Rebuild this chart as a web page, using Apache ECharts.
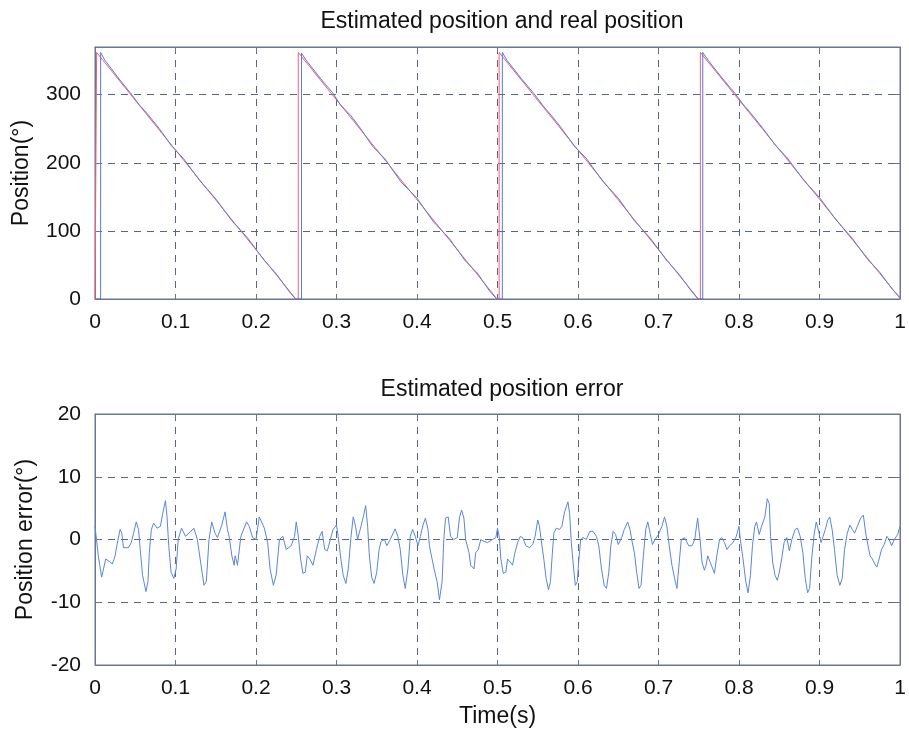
<!DOCTYPE html>
<html>
<head>
<meta charset="utf-8">
<script src="https://cdn.jsdelivr.net/npm/echarts@6/dist/echarts.min.js"></script>
<style>
html,body{margin:0;padding:0;background:#fff;}
#c{width:909px;height:736px;}
</style>
</head>
<body>
<div id="c"></div>
<script>
// ---- data ----
const topTitle = 'Estimated position and real position';
const bottomTitle = 'Estimated position error';

// real position (red)
const realT = [0, 0.002, 0.002, 0.2495, 0.2525, 0.2525, 0.4995, 0.502, 0.502, 0.7495, 0.752, 0.752, 1.0];
const realV = [0, 0, 362, 0, 0, 362, 0, 0, 362, 0, 0, 362, 1];

// estimated position (blue)
const estT = [0, 0.007, 0.007, 0.012, 0.03, 0.045, 0.055, 0.065, 0.08, 0.095, 0.11, 0.13, 0.15, 0.17, 0.19, 0.21, 0.225, 0.24, 0.249,
  0.2565, 0.2565, 0.262, 0.28, 0.295, 0.305, 0.318, 0.33, 0.345, 0.36, 0.38, 0.40, 0.42, 0.44, 0.46, 0.475, 0.49, 0.499,
  0.506, 0.506, 0.512, 0.53, 0.545, 0.557, 0.568, 0.58, 0.595, 0.61, 0.63, 0.65, 0.67, 0.69, 0.71, 0.725, 0.74, 0.749,
  0.755, 0.755, 0.762, 0.78, 0.795, 0.805, 0.818, 0.83, 0.845, 0.86, 0.88, 0.90, 0.92, 0.94, 0.96, 0.975, 0.99, 1.0];
const estV = [0, 0, 362, 351, 323, 301, 285, 272, 250, 225, 206, 174, 147, 115, 89, 57, 37, 13, 0,
  0, 361, 351, 324, 303, 285, 269, 250, 224, 206, 172, 148, 114, 89, 56, 38, 12, 0,
  0, 362, 350, 323, 302, 283, 268, 250, 225, 207, 174, 148, 115, 89, 57, 37, 13, 0,
  0, 362, 350, 323, 302, 286, 268, 250, 226, 207, 175, 149, 117, 90, 58, 39, 15, 2];

// position error
const errT = [0.0000,0.0041,0.0083,0.0104,0.0133,0.0187,0.0216,0.0250,0.0271,0.0312,0.0333,0.0354,0.0416,0.0450,0.0479,0.0512,0.0541,0.0562,0.0591,0.0633,
  0.0658,0.0675,0.0700,0.0729,0.0771,0.0812,0.0841,0.0875,0.0895,0.0916,0.0945,0.0979,0.1008,0.1033,0.1075,0.1125,0.1229,0.1271,0.1312,0.1354,
  0.1383,0.1416,0.1450,0.1491,0.1521,0.1575,0.1616,0.1645,0.1666,0.1700,0.1729,0.1741,0.1770,0.1812,0.1883,0.1916,0.1958,0.2000,0.2041,0.2062,
  0.2104,0.2145,0.2175,0.2216,0.2250,0.2291,0.2333,0.2375,0.2437,0.2479,0.2500,0.2521,0.2554,0.2583,0.2612,0.2637,0.2667,0.2708,0.2750,0.2792,
  0.2821,0.2854,0.2887,0.2929,0.2958,0.3000,0.3021,0.3054,0.3083,0.3117,0.3146,0.3179,0.3208,0.3237,0.3262,0.3304,0.3333,0.3362,0.3387,0.3408,
  0.3437,0.3467,0.3500,0.3529,0.3554,0.3596,0.3625,0.3667,0.3729,0.3762,0.3792,0.3825,0.3854,0.3887,0.3917,0.3946,0.3979,0.4012,0.4042,0.4075,
  0.4104,0.4137,0.4154,0.4187,0.4221,0.4250,0.4279,0.4312,0.4333,0.4354,0.4387,0.4417,0.4458,0.4500,0.4529,0.4554,0.4583,0.4604,0.4646,0.4667,
  0.4708,0.4729,0.4762,0.4792,0.4833,0.4875,0.4937,0.4979,0.5000,0.5021,0.5042,0.5071,0.5104,0.5125,0.5158,0.5187,0.5217,0.5250,0.5283,0.5312,
  0.5354,0.5396,0.5437,0.5467,0.5500,0.5521,0.5542,0.5575,0.5604,0.5633,0.5658,0.5679,0.5700,0.5729,0.5771,0.5800,0.5833,0.5875,0.5896,0.5917,
  0.5950,0.5967,0.5992,0.6008,0.6033,0.6062,0.6104,0.6146,0.6187,0.6229,0.6258,0.6292,0.6325,0.6354,0.6383,0.6408,0.6437,0.6467,0.6500,0.6542,
  0.6575,0.6617,0.6646,0.6667,0.6700,0.6729,0.6758,0.6783,0.6812,0.6842,0.6867,0.6896,0.6925,0.6958,0.7000,0.7042,0.7075,0.7104,0.7133,0.7167,
  0.7200,0.7229,0.7250,0.7283,0.7325,0.7375,0.7417,0.7450,0.7486,0.7516,0.7541,0.7570,0.7591,0.7612,0.7641,0.7675,0.7695,0.7724,0.7758,0.7787,
  0.7820,0.7850,0.7883,0.7925,0.7967,0.8000,0.8017,0.8050,0.8084,0.8113,0.8142,0.8167,0.8196,0.8217,0.8251,0.8280,0.8322,0.8351,0.8376,0.8392,
  0.8418,0.8447,0.8476,0.8501,0.8530,0.8560,0.8593,0.8626,0.8656,0.8697,0.8727,0.8760,0.8793,0.8823,0.8852,0.8877,0.8906,0.8935,0.8960,0.8990,
  0.9019,0.9044,0.9073,0.9102,0.9127,0.9157,0.9186,0.9219,0.9253,0.9282,0.9311,0.9345,0.9378,0.9407,0.9436,0.9470,0.9511,0.9545,0.9574,0.9603,
  0.9628,0.9657,0.9687,0.9712,0.9741,0.9770,0.9804,0.9837,0.9866,0.9896,0.9929,0.9971,1.0000];
const errV = [2.1,-2.6,-6.0,-6.2,-3.1,-3.6,-3.9,-2.6,-1.0,1.6,1.0,-1.3,-1.3,-0.5,1.0,2.8,1.6,-1.6,-5.7,-8.3,
  -6.7,-2.1,1.6,2.6,1.8,2.1,4.1,6.2,3.6,-1.0,-5.2,-6.2,-4.7,0,1.8,0.5,1.8,0,-3.6,-7.3,
  -6.7,0,2.8,1.0,0.3,2.3,4.4,1.6,0.5,-2.6,-4.1,-2.6,-4.1,0.5,2.8,2.1,0.3,0,3.6,3.9,
  1.8,-0.5,-4.7,-7.3,-5.7,0,0.5,-1.6,-1.0,0.5,2.8,1.0,-3.1,-5.4,-5.2,-2.6,-3.1,-4.1,-1.6,0.5,
  1.3,-1.6,-1.8,0.3,1.6,2.3,0.5,-3.1,-5.7,-7.0,-4.7,0.3,3.6,2.1,0,2.1,3.6,5.4,2.1,-2.6,
  -6.0,-7.0,-5.2,-1.6,-0.3,0,-1.0,0,1.7,0.5,-1.6,-5.7,-7.8,-4.7,0.5,1.6,0.5,-1.0,0.5,2.3,
  3.4,1.6,-1.0,-3.1,-5.2,-6.7,-9.6,-6.7,0,3.4,3.6,0.5,0,0.3,3.6,4.7,3.4,0,-2.1,-4.1,
  -4.7,-2.1,-1.6,0,-0.3,-0.5,0,0.3,1.8,0.5,-3.1,-5.4,-5.2,-3.1,-3.6,-4.1,-2.1,-0.5,0.5,0.3,
  -1.0,-1.3,-0.8,0.5,3.1,2.1,0,-3.1,-6.2,-8.0,-6.7,-2.6,1.0,1.8,1.6,2.1,4.4,6.0,4.1,-0.5,
  -5.2,-7.3,-6.7,-3.6,0,0.3,0,1.3,1.3,0.5,-1.0,-4.7,-7.3,-7.8,-5.2,-1.0,1.3,0.8,-0.8,0.3,
  1.6,2.8,1.6,0,-2.1,-5.2,-7.8,-7.3,-2.6,1.6,2.8,1.0,-0.8,0,0.8,2.1,3.6,2.1,-1.0,-4.1,
  -6.2,-7.8,-4.7,0,0.3,-1.0,-1.0,0,3.4,0,-3.6,-4.9,-4.1,-2.6,-3.6,-4.7,-5.4,-2.6,0,0.3,
  -0.5,-1.6,-1.0,-0.5,0.5,2.1,0,-3.1,-6.7,-8.5,-5.7,-1.0,2.1,2.8,0.8,2.1,3.6,6.5,5.7,0.5,
  -3.6,-5.7,-6.5,-5.2,-3.1,-0.5,0.3,-1.8,0,1.6,1.8,0.5,-2.1,-6.2,-8.5,-7.8,-2.6,1.0,2.8,1.3,
  -0.5,0.5,1.6,3.1,3.6,1.6,-1.6,-5.7,-7.3,-6.2,-1.6,1.0,2.3,1.6,1.0,2.1,3.4,3.9,1.0,-1.0,
  -2.6,-3.1,-3.9,-4.4,-3.1,-1.6,-0.8,0.5,0,-1.0,0,0.8,2.1];

const xMin = 0, xMax = 1, xStep = 0.1;
const posMin = 0, posMax = 370, posStep = 100;
const errMin = -20, errMax = 20, errStep = 10;

// ---- chart ----
const zip = (a, b) => a.map((v, i) => [v, b[i]]);
const FONT = 'Liberation Sans, Arial, Helvetica, sans-serif';
const AX = '#6a7590';
const GRIDC = '#5a6585';

function xAxisCfg(gi, withName) {
  return {
    type: 'value', gridIndex: gi, min: xMin, max: xMax, interval: xStep,
    name: withName ? 'Time(s)' : '', nameLocation: 'middle', nameGap: 40,
    nameTextStyle: { fontFamily: FONT, fontSize: 23, color: '#111' },
    axisLine: { show: true, onZero: false, lineStyle: { color: AX, width: 1 } },
    axisTick: { show: true, inside: true, length: 5, lineStyle: { color: AX } },
    axisLabel: { fontFamily: FONT, fontSize: 21, color: '#111', margin: 13,
      formatter: v => String(Math.round(v * 10) / 10) },
    splitLine: { show: true, lineStyle: { color: GRIDC, type: [7, 6], width: 1 } }
  };
}
function xTopCfg(gi) {
  return {
    type: 'value', gridIndex: gi, min: xMin, max: xMax, interval: xStep, position: 'top',
    axisLine: { show: true, onZero: false, lineStyle: { color: AX } },
    axisTick: { show: true, inside: true, length: 5, lineStyle: { color: AX } },
    axisLabel: { show: false }, splitLine: { show: false }
  };
}
function yAxisCfg(gi, name, mn, mx, step, gap) {
  return {
    type: 'value', gridIndex: gi, min: mn, max: mx, interval: step,
    name: name, nameLocation: 'middle', nameGap: gap, nameRotate: 90,
    nameTextStyle: { fontFamily: FONT, fontSize: 23, color: '#111' },
    axisLine: { show: true, onZero: false, lineStyle: { color: AX } },
    axisTick: { show: true, inside: true, length: 5, lineStyle: { color: AX } },
    axisLabel: { fontFamily: FONT, fontSize: 21, color: '#111', margin: 14,
      formatter: v => (Math.abs(v % step) < 1e-9 ? String(v) : '') },
    splitLine: { show: true, lineStyle: { color: GRIDC, type: [7, 6], width: 1 } }
  };
}
function yRightCfg(gi, mn, mx, step) {
  return {
    type: 'value', gridIndex: gi, min: mn, max: mx, interval: step, position: 'right',
    axisLine: { show: true, onZero: false, lineStyle: { color: AX } },
    axisTick: { show: true, inside: true, length: 5, lineStyle: { color: AX } },
    axisLabel: { show: false }, splitLine: { show: false }
  };
}

const chart = echarts.init(document.getElementById('c'), null, { renderer: 'canvas' });
chart.setOption({
  animation: false,
  backgroundColor: '#ffffff',
  title: [
    { text: topTitle, left: 497, top: 5, textAlign: 'center',
      textStyle: { fontFamily: FONT, fontSize: 23, fontWeight: 'normal', color: '#111' } },
    { text: bottomTitle, left: 497, top: 373, textAlign: 'center',
      textStyle: { fontFamily: FONT, fontSize: 23, fontWeight: 'normal', color: '#111' } }
  ],
  grid: [
    { left: 95, right: 9, top: 47, height: 252, show: true, borderColor: AX, borderWidth: 1, backgroundColor: '#fff' },
    { left: 95, right: 9, top: 414, height: 251, show: true, borderColor: AX, borderWidth: 1, backgroundColor: '#fff' }
  ],
  xAxis: [xAxisCfg(0, false), xAxisCfg(1, true), xTopCfg(0), xTopCfg(1)],
  yAxis: [
    yAxisCfg(0, 'Position(°)', posMin, posMax, posStep, 62),
    yAxisCfg(1, 'Position error(°)', errMin, errMax, errStep, 58),
    yRightCfg(0, posMin, posMax, posStep),
    yRightCfg(1, errMin, errMax, errStep)
  ],
  series: [
    { type: 'line', xAxisIndex: 0, yAxisIndex: 0, data: zip(realT, realV), showSymbol: false,
      lineStyle: { color: '#f0607a', width: 1 }, z: 3 },
    { type: 'line', xAxisIndex: 0, yAxisIndex: 0, data: zip(estT, estV), showSymbol: false,
      lineStyle: { color: '#5b78d6', width: 1 }, z: 4 },
    { type: 'line', xAxisIndex: 1, yAxisIndex: 1, data: zip(errT, errV), showSymbol: false,
      lineStyle: { color: '#5a86dc', width: 1 }, z: 4 }
  ]
});
</script>
</body>
</html>
